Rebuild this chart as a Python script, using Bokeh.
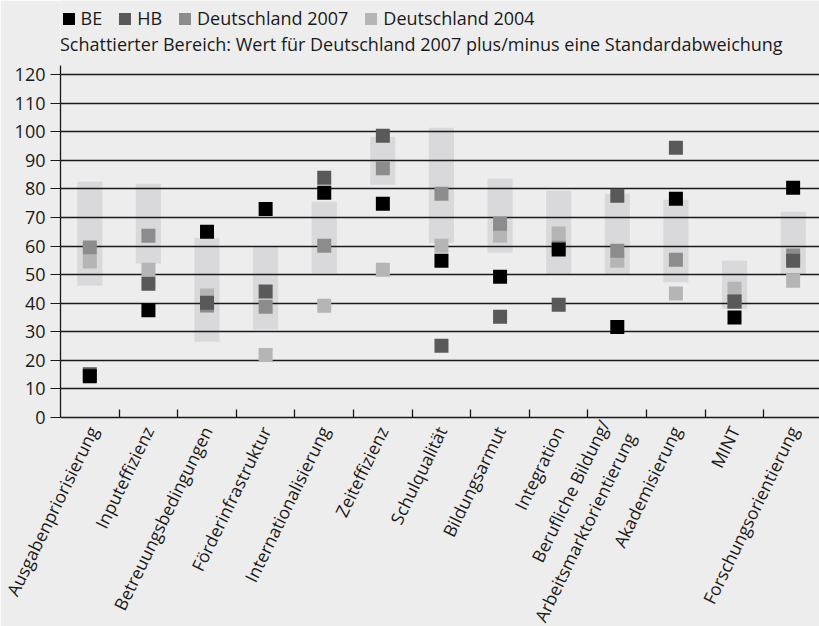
import math
from bokeh.plotting import figure
from bokeh.models import Range1d, FixedTicker, Legend, LegendItem
from bokeh.embed import file_html
from bokeh.resources import INLINE

categories = [
    "Ausgabenpriorisierung", "Inputeffizienz", "Betreuungsbedingungen",
    "Förderinfrastruktur", "Internationalisierung", "Zeiteffizienz",
    "Schulqualität", "Bildungsarmut", "Integration",
    "Berufliche Bildung/\nArbeitsmarktorientierung", "Akademisierung",
    "MINT", "Forschungsorientierung",
]
be = [14.4, 37.5, 65.0, 73.0, 78.7, 74.8, 54.9, 49.3, 58.8, 31.7, 76.6, 35.0, 80.4]
hb = [15.1, 46.8, 40.2, 44.1, 83.9, 98.6, 25.1, 35.3, 39.5, 77.6, 94.4, 40.6, 54.9]
de2007 = [59.5, 63.6, 39.2, 38.8, 60.1, 87.2, 78.3, 67.8, 59.5, 58.4, 55.2, 40.5, 56.7]
de2004 = [54.6, 51.7, 42.7, 21.9, 39.1, 51.7, 60.1, 63.6, 64.4, 54.9, 43.4, 45.1, 47.9]
band_high = [82.5, 81.8, 62.9, 59.9, 75.5, 98.3, 101.4, 83.6, 79.4, 78.3, 76.2, 54.9, 72.0]
band_low = [46.1, 53.9, 26.5, 30.8, 50.4, 81.5, 61.2, 57.7, 50.1, 50.1, 47.3, 38.1, 50.2]
y_ticks = [0, 10, 20, 30, 40, 50, 60, 70, 80, 90, 100, 110, 120]
legend_labels = ["BE", "HB", "Deutschland 2007", "Deutschland 2004"]
note = "Schattierter Bereich: Wert für Deutschland 2007 plus/minus eine Standardabweichung"

FONT = "Open Sans"
FS = "18px"
FS_X = "17.5px"
BG = "#ededed"
INK = "#1a1a1a"
C_BE, C_HB, C_07, C_04, C_BAND = "#000000", "#595959", "#8c8c8c", "#b5b5b5", "#d9d9db"

Y_AXIS_TOP = 123.2          # where the drawn y axis line ends
PX_PER_UNIT = 352 / Y_AXIS_TOP
FRAME_H = 417               # frame also hosts the legend rows above the axis

n = len(categories)
centers = [i + 0.5 for i in range(n)]
bounds = [i + 1 for i in range(n - 1)]

p = figure(frame_width=759, frame_height=FRAME_H, output_backend="svg", toolbar_location=None,
           x_range=Range1d(0, 12.95), y_range=Range1d(0, FRAME_H / PX_PER_UNIT),
           min_border_left=60, min_border_right=0, min_border_top=0, min_border_bottom=0)
p.background_fill_color = BG
p.border_fill_color = BG
p.outline_line_color = None

# grid
p.xgrid.visible = False
p.ygrid.ticker = FixedTicker(ticks=y_ticks)
p.ygrid.grid_line_color = INK
p.ygrid.grid_line_width = 1.3

# y axis
ya = p.yaxis[0]
ya.ticker = FixedTicker(ticks=y_ticks)
ya.bounds = (0, Y_AXIS_TOP)
ya.axis_line_color = INK
ya.axis_line_width = 1.3
ya.major_tick_line_color = INK
ya.major_tick_in = 0
ya.major_tick_out = 10
ya.minor_tick_line_color = None
ya.major_label_standoff = 5
ya.major_label_text_font = FONT
ya.major_label_text_font_size = FS
ya.major_label_text_color = INK

# x axis
xa = p.xaxis[0]
xa.ticker = FixedTicker(ticks=centers, minor_ticks=bounds)
xa.major_label_overrides = {c: lab for c, lab in zip(centers, categories)}
xa.axis_line_color = INK
xa.axis_line_width = 1.3
xa.major_tick_line_color = None
xa.major_tick_in = 0
xa.major_tick_out = 0
xa.minor_tick_line_color = INK
xa.minor_tick_line_width = 1.3
xa.minor_tick_in = 8
xa.minor_tick_out = 0
xa.major_label_orientation = math.radians(64)
xa.major_label_standoff = 10
xa.major_label_text_font = FONT
xa.major_label_text_font_size = FS_X
xa.major_label_text_color = INK

# shaded bands (below grid lines)
p.vbar(x=centers, bottom=band_low, top=band_high, width=0.43,
       fill_color=C_BAND, line_color=None, level="image")

sq = dict(width=14, height=14, width_units="screen", height_units="screen", line_color=None)
r04 = p.rect(x=centers, y=de2004, fill_color=C_04, **sq)
r07 = p.rect(x=centers, y=de2007, fill_color=C_07, **sq)
rhb = p.rect(x=centers, y=hb, fill_color=C_HB, **sq)
rbe = p.rect(x=centers, y=be, fill_color=C_BE, **sq)

common = dict(orientation="horizontal", glyph_height=15, label_height=15,
              padding=0, margin=0, border_line_color=None, background_fill_alpha=0,
              label_text_font=FONT, label_text_font_size=FS, label_text_color=INK)

legend = Legend(
    items=[LegendItem(label=legend_labels[0], renderers=[rbe]),
           LegendItem(label=legend_labels[1], renderers=[rhb]),
           LegendItem(label=legend_labels[2], renderers=[r07]),
           LegendItem(label=legend_labels[3], renderers=[r04])],
    location=(0.5, 387), glyph_width=15, label_standoff=5, spacing=15, **common)
p.add_layout(legend, "center")

# explanatory note as a glyph-less legend entry
r_note = p.rect(x=[], y=[], width=1, height=1, fill_alpha=0, line_alpha=0)
note_legend = Legend(items=[LegendItem(label=note, renderers=[r_note])],
                     location=(0, 361), glyph_width=0, label_standoff=0, spacing=0, **common)
p.add_layout(note_legend, "center")

open("out.html", "w").write(file_html(p, INLINE))
